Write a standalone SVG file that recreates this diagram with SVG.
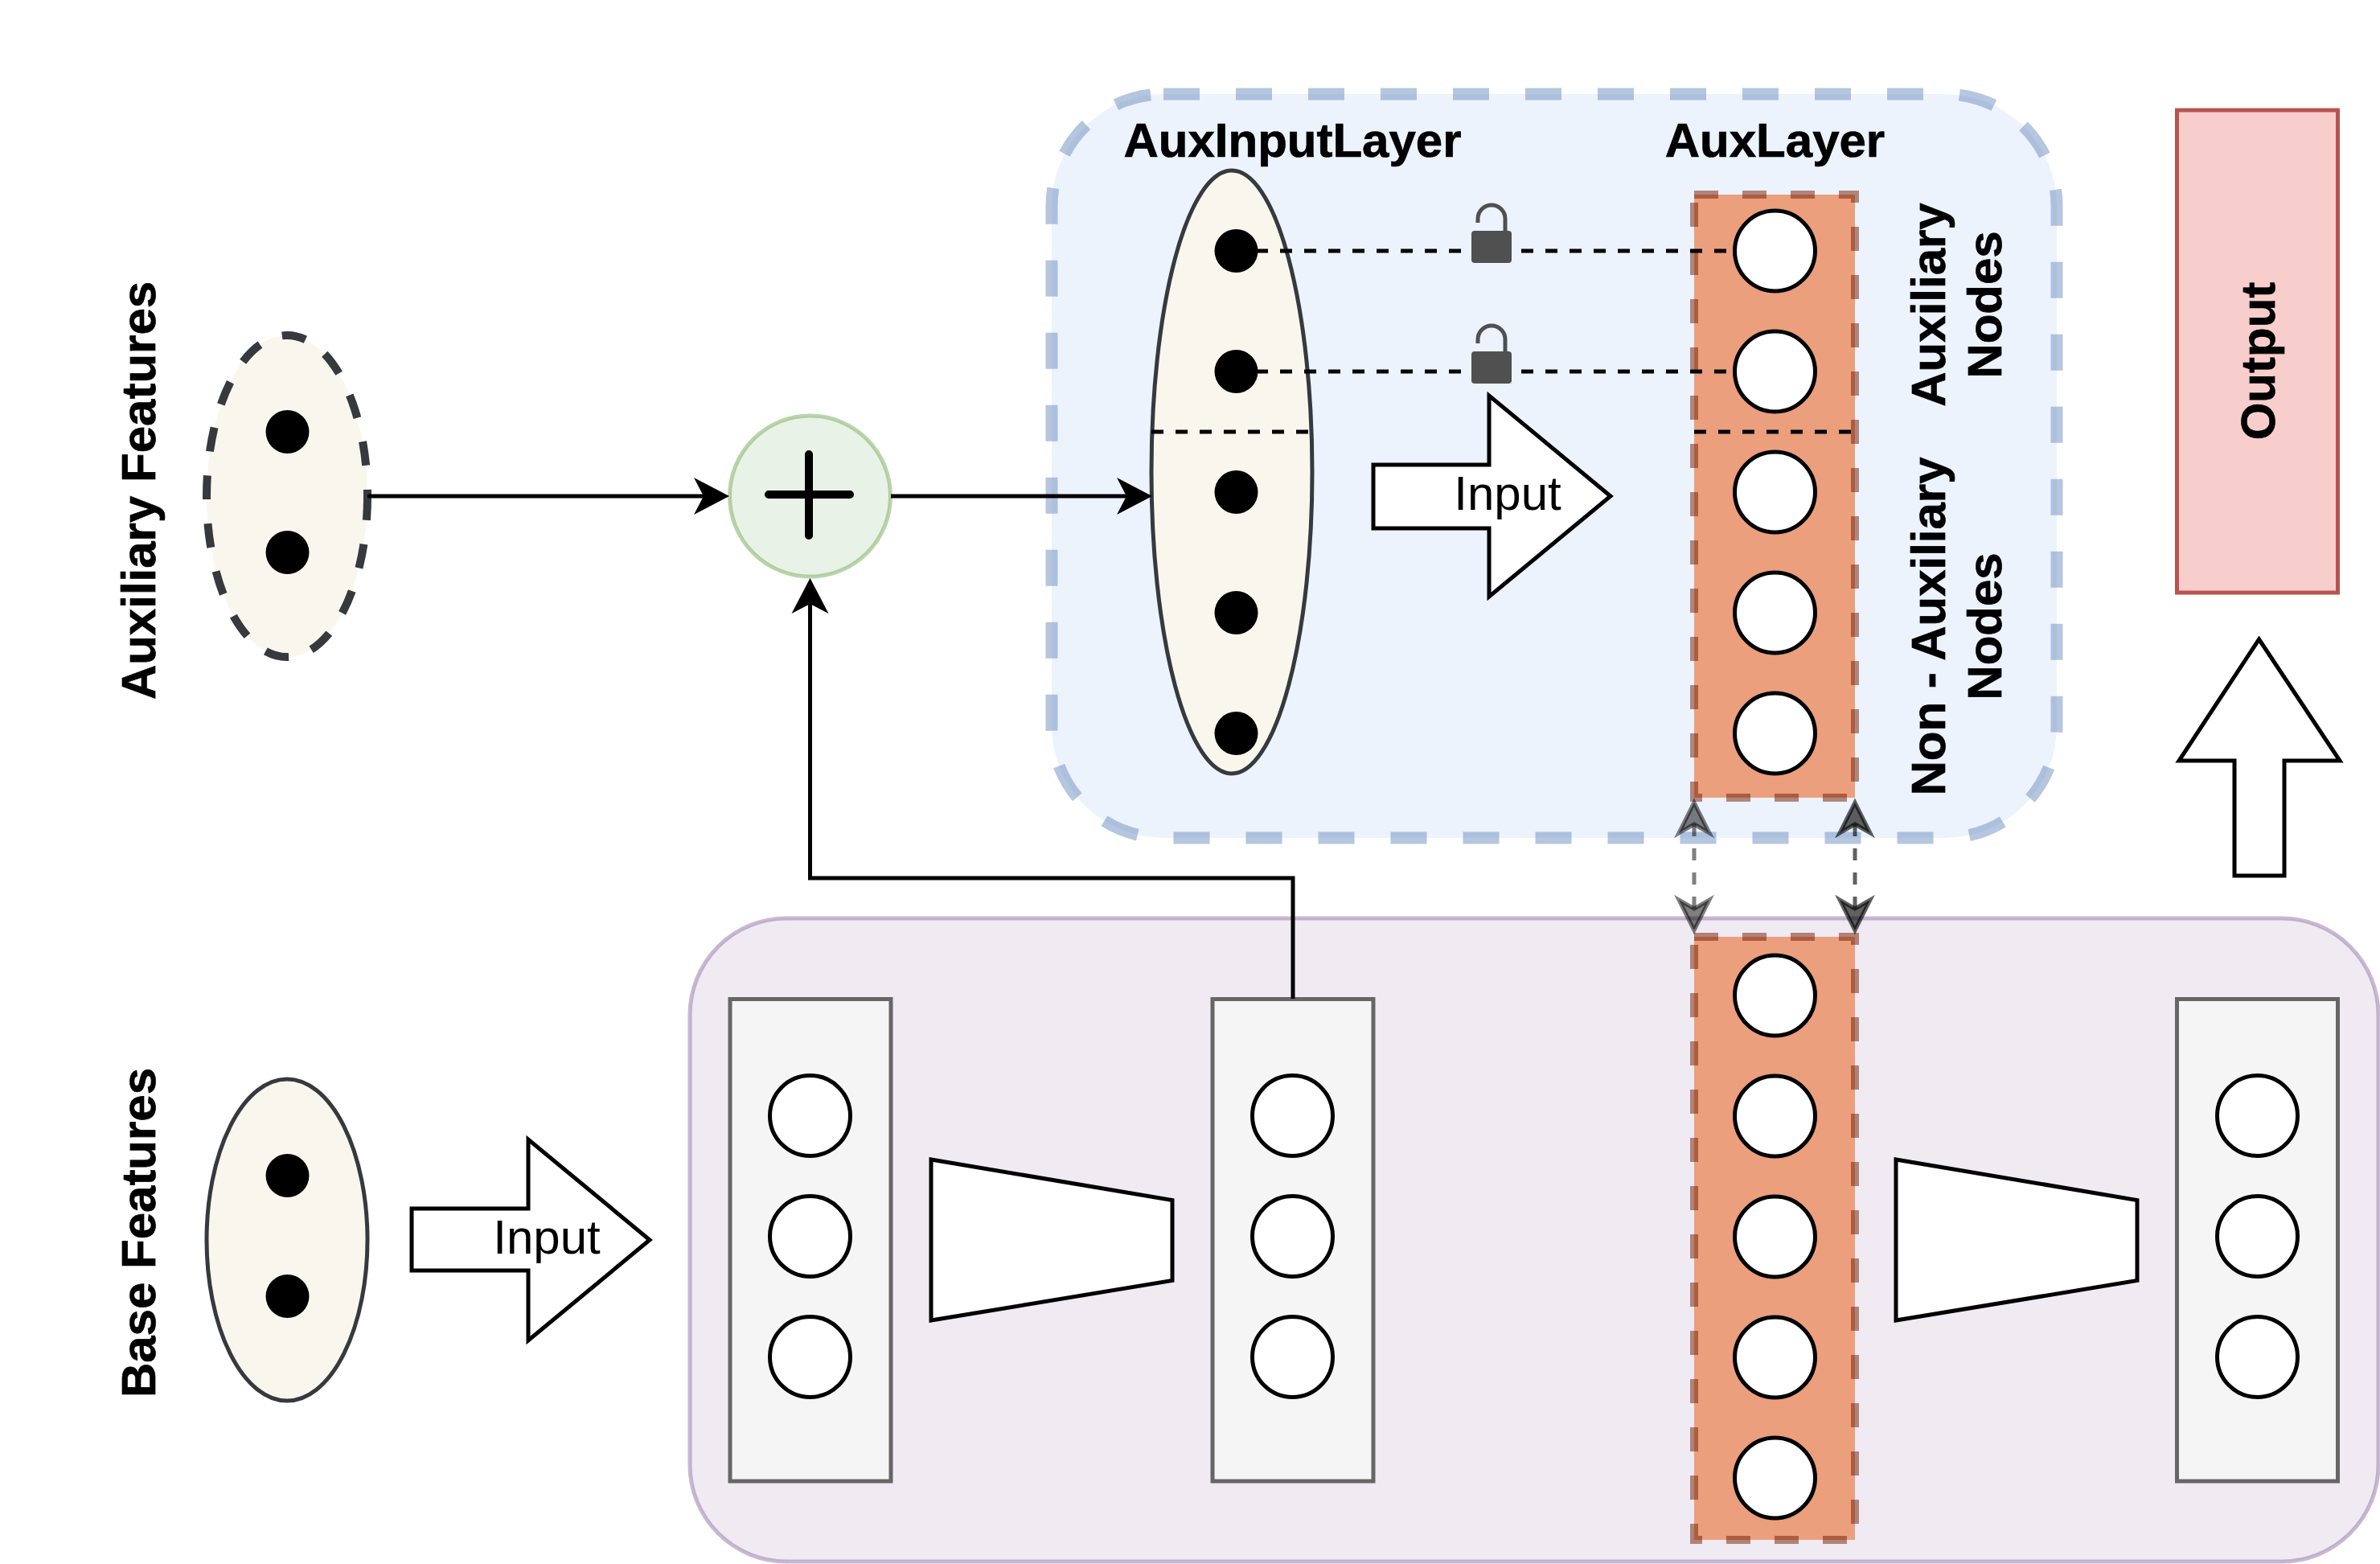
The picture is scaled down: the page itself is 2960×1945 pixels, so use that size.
<svg xmlns="http://www.w3.org/2000/svg" width="2960" height="1945" viewBox="0 0 2960 1945">
  <style>
    text { font-family: "Liberation Sans", Arial, sans-serif; font-size: 60px; fill: #000; }
    .b { font-weight: bold; text-anchor: middle; stroke: #000; stroke-width: .7; }
    .m { text-anchor: middle; }
    .dot { fill: #000; }
    .node { fill: #fff; stroke: #000; stroke-width: 5; }
    .cell { fill: #f5f5f5; stroke: #666; stroke-width: 5; }
    .aux { fill: #eb9f7d; stroke: #6f1a00; stroke-opacity: .5; stroke-width: 10; stroke-dasharray: 30 30; }
    .wire { fill: none; stroke: #000; stroke-width: 5; }
    .dash { fill: none; stroke: #000; stroke-width: 5; stroke-dasharray: 15 15; }
    .head { fill: #000; stroke: none; }
    .block { fill: #fff; stroke: #000; stroke-width: 5; }
    .link { fill: none; stroke: #000; stroke-opacity: .5; stroke-width: 5; stroke-dasharray: 15 15; }
    .tip { fill: #000; fill-opacity: .5; stroke: #000; stroke-opacity: .5; stroke-width: 5; }
    .strong { stroke-opacity: .62; }
    .tip.strong { fill-opacity: .62; }
    .lockbody { fill: #505050; }
    .shackle { fill: none; stroke: #505050; stroke-width: 5; }
  </style>
  <defs>
    <g id="lock">
      <path class="shackle" d="M-17,-35 V-40 A17,17 0 0 1 17,-40 V-24"/>
      <rect class="lockbody" x="-25" y="-25" width="50" height="40" rx="4"/>
    </g>
  </defs>
  <rect width="2960" height="1945" fill="#fff"/>

  <g id="aux-region">
    <path d="M1447,117 H2419 A139,139 0 0 1 2558,256 V903 A139,139 0 0 1 2419,1042 H1447 A139,139 0 0 1 1308,903 V256 A139,139 0 0 1 1447,117 Z" fill="#dae8fc" fill-opacity=".5" stroke="#6c8ebf" stroke-opacity=".5" stroke-width="15" stroke-dasharray="45 45"/>
  </g>
  <g id="base-region">
    <path d="M978,1142 H2838 A120,120 0 0 1 2958,1262 V1822 A120,120 0 0 1 2838,1942 H978 A120,120 0 0 1 858,1822 V1262 A120,120 0 0 1 978,1142 Z" fill="#e1d5e7" fill-opacity=".5" stroke="#9673a6" stroke-opacity=".5" stroke-width="5"/>
  </g>

  <g id="aux-features">
    <ellipse cx="357" cy="617" rx="100" ry="200" fill="#f9f7ed" stroke="#36393d" stroke-width="10" stroke-dasharray="30 30"/>
    <circle class="dot" cx="357.500" cy="537" r="27"/>
    <circle class="dot" cx="357.500" cy="687" r="27"/>
  </g>
  <g id="base-features">
    <ellipse cx="357" cy="1542" rx="100" ry="200" fill="#f9f7ed" stroke="#36393d" stroke-width="5"/>
    <circle class="dot" cx="357.500" cy="1462" r="27"/>
    <circle class="dot" cx="357.500" cy="1612" r="27"/>
  </g>
  <g id="labels-left">
    <text class="b" transform="translate(193 610) rotate(-90)">Auxiliary Features</text>
    <text class="b" transform="translate(193 1533) rotate(-90)">Base Features</text>
  </g>

  <g id="sum">
    <circle cx="1007.500" cy="617" r="100" fill="#d5e8d4" fill-opacity=".55" stroke="#82b366" stroke-opacity=".55" stroke-width="5"/>
    <path d="M1006,565 V666 M956,615 H1057" fill="none" stroke="#000" stroke-width="10" stroke-linecap="round"/>
  </g>

  <g id="aux-input-layer">
    <ellipse cx="1532" cy="587" rx="100" ry="375" fill="#f9f7ed" stroke="#36393d" stroke-width="5"/>
    <circle class="dot" cx="1537.500" cy="312" r="27"/>
    <circle class="dot" cx="1537.500" cy="462" r="27"/>
    <circle class="dot" cx="1537.500" cy="612" r="27"/>
    <circle class="dot" cx="1537.500" cy="762" r="27"/>
    <circle class="dot" cx="1537.500" cy="912" r="27"/>
    <path class="dash" d="M1432,537 H1632"/>
    <text class="b" x="1607.500" y="195">AuxInputLayer</text>
  </g>

  <g id="aux-layer">
    <rect class="aux" x="2107" y="242" width="200" height="750"/>
    <circle class="node" cx="2207.500" cy="312" r="50"/>
    <circle class="node" cx="2207.500" cy="462" r="50"/>
    <circle class="node" cx="2207.500" cy="612" r="50"/>
    <circle class="node" cx="2207.500" cy="762" r="50"/>
    <circle class="node" cx="2207.500" cy="912" r="50"/>
    <path class="dash" d="M2107,537 H2307"/>
    <text class="b" x="2207.500" y="195">AuxLayer</text>
    <text class="b" transform="translate(2419 379) rotate(-90)">Auxiliary</text>
    <text class="b" transform="translate(2489 379) rotate(-90)">Nodes</text>
    <text class="b" transform="translate(2419 779) rotate(-90)">Non - Auxiliary</text>
    <text class="b" transform="translate(2489 779) rotate(-90)">Nodes</text>
  </g>

  <g id="shared-layer">
    <rect class="aux" x="2107" y="1165" width="200" height="750"/>
    <circle class="node" cx="2207.500" cy="1238" r="50"/>
    <circle class="node" cx="2207.500" cy="1388" r="50"/>
    <circle class="node" cx="2207.500" cy="1538" r="50"/>
    <circle class="node" cx="2207.500" cy="1688" r="50"/>
    <circle class="node" cx="2207.500" cy="1838" r="50"/>
  </g>

  <g id="layer-a">
    <rect class="cell" x="908" y="1242.500" width="200" height="599.500"/>
    <circle class="node" cx="1007.500" cy="1387.500" r="50"/>
    <circle class="node" cx="1007.500" cy="1537.500" r="50"/>
    <circle class="node" cx="1007.500" cy="1687.500" r="50"/>
  </g>
  <g id="layer-b">
    <rect class="cell" x="1508" y="1242.500" width="200" height="599.500"/>
    <circle class="node" cx="1607.500" cy="1387.500" r="50"/>
    <circle class="node" cx="1607.500" cy="1537.500" r="50"/>
    <circle class="node" cx="1607.500" cy="1687.500" r="50"/>
  </g>
  <g id="layer-c">
    <rect class="cell" x="2707.500" y="1242.500" width="200" height="599.500"/>
    <circle class="node" cx="2807.500" cy="1387.500" r="50"/>
    <circle class="node" cx="2807.500" cy="1537.500" r="50"/>
    <circle class="node" cx="2807.500" cy="1687.500" r="50"/>
  </g>

  <g id="reducer-a"><path class="block" d="M1158,1442 L1458,1492.500 V1592.500 L1158,1642 Z"/></g>
  <g id="reducer-b"><path class="block" d="M2358,1442 L2658,1492.500 V1592.500 L2358,1642 Z"/></g>

  <g id="input-upper">
    <path class="block" d="M1708,578 H1852 V492 L2003,617 L1852,742 V657 H1708 Z"/>
    <text class="m" x="1875" y="634">Input</text>
  </g>
  <g id="input-lower">
    <path class="block" d="M512,1503 H657 V1417 L808,1542 L657,1667 V1580 H512 Z"/>
    <text class="m" x="680" y="1559">Input</text>
  </g>
  <g id="output-arrow"><path class="block" d="M2809.500,795 L2910,946 H2841 V1089 H2779 V946 H2710 Z"/></g>
  <g id="output">
    <rect x="2707.500" y="137" width="200" height="600" fill="#f8cecc" stroke="#b85450" stroke-width="5"/>
    <text class="b" transform="translate(2829 449) rotate(-90)">Output</text>
  </g>

  <g id="connectors">
    <path class="wire" d="M457,617 H880"/>
    <path class="head" d="M907,617 L863,640 L875,617 L863,594 Z"/>
    <path class="wire" d="M1108,617 H1406"/>
    <path class="head" d="M1433,617 L1389,640 L1401,617 L1389,594 Z"/>
    <path class="wire" d="M1608,1242 V1092 H1007.500 V750"/>
    <path class="head" d="M1007.500,719 L1030.500,763 L1007.500,751 L984.500,763 Z"/>
    <path class="dash" d="M1562,312 H2155"/>
    <path class="dash" d="M1562,462 H2155"/>
    <g id="links">
      <path class="link" d="M2107,1025 V1130"/>
      <path class="tip" d="M2107,998 L2126,1036 L2107,1025 L2088,1036 Z"/>
      <path class="tip" d="M2107,1157 L2126,1119 L2107,1130 L2088,1119 Z"/>
      <path class="link strong" d="M2307,1025 V1130"/>
      <path class="tip strong" d="M2307,998 L2326,1036 L2307,1025 L2288,1036 Z"/>
      <path class="tip strong" d="M2307,1157 L2326,1119 L2307,1130 L2288,1119 Z"/>
    </g>
  </g>

  <use id="lock-1" href="#lock" x="1855" y="312"/>
  <use id="lock-2" href="#lock" x="1855" y="462"/>
</svg>
